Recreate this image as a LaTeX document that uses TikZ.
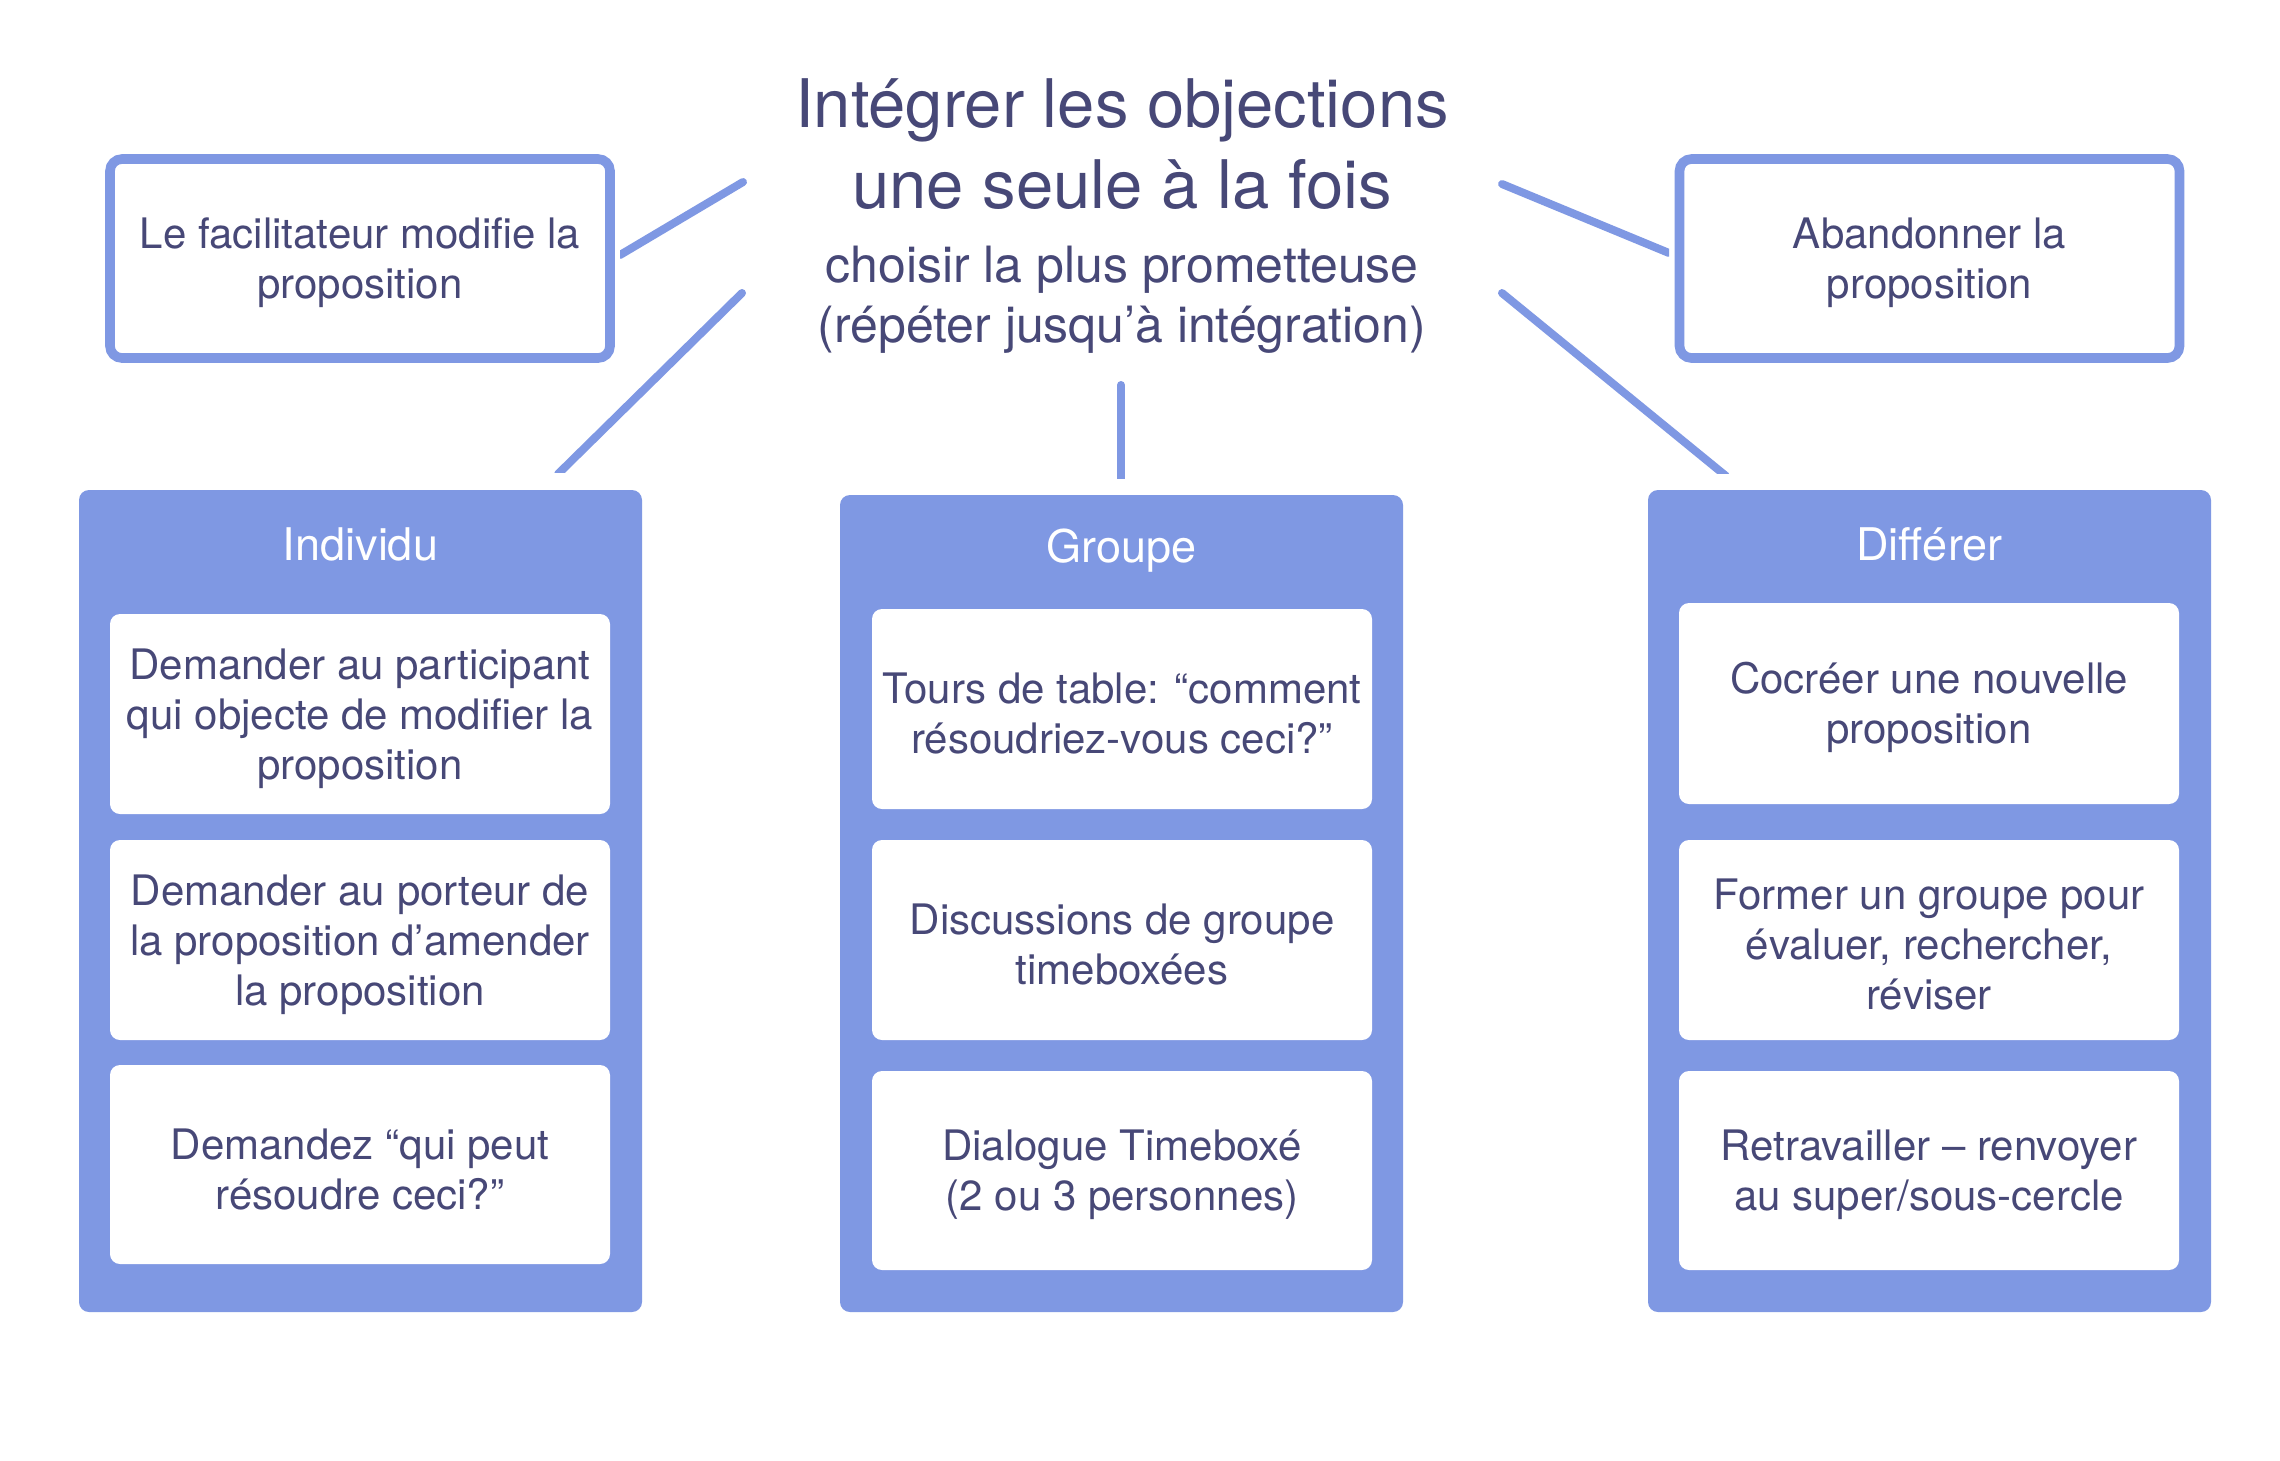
\documentclass[tikz,border=0pt]{standalone}
\usepackage{fontspec}
\setmainfont{TeX Gyre Heros}
\definecolor{cblue}{HTML}{7F98E3}
\definecolor{ink}{HTML}{474877}
\newcommand\boxstrut{\rule{0pt}{9.9pt}}
\begin{document}
\begin{tikzpicture}[x=0.25pt,y=-0.25pt,
  conn/.style={draw=cblue, line width=2pt, line cap=round},
  topbox/.style={draw=cblue, line width=2.4pt, fill=white, rounded corners=3pt,
    minimum width=125pt, minimum height=49.75pt, inner sep=0pt, align=center,
    text=ink, font=\fontsize{10.5pt}{12.5pt}\selectfont},
  colbox/.style={fill=cblue, rounded corners=2.5pt, minimum width=140.75pt, inner sep=0pt},
  colhead/.style={anchor=base, text=white, font=\fontsize{11.25pt}{13pt}\selectfont},
  itembox/.style={fill=white, rounded corners=2.5pt, minimum width=125pt, minimum height=50pt,
    inner sep=0pt, align=center, text=ink, font=\fontsize{10.5pt}{12.5pt}\selectfont},
  titleline/.style={anchor=base, text=ink, font=\fontsize{16.75pt}{20pt}\selectfont},
  subline/.style={anchor=base, text=ink, font=\fontsize{12.5pt}{15pt}\selectfont}]
\useasboundingbox (0,0) rectangle (2280,1460);
\fill[white] (0,0) rectangle (2280,1460);

% title
\node[titleline] (t1) at (1122,127) {Intégrer les objections};
\node[titleline] (t2) at (1122,208) {une seule à la fois};
\node[subline] (s1) at (1122,282) {choisir la plus prometteuse};
\node[subline] (s2) at (1122,342) {(répéter jusqu’à intégration)};

% connector end points
\coordinate (c1s) at (743,182);  \coordinate (c1e) at (620,255);
\coordinate (c2s) at (742,293);  \coordinate (c2e) at (558,474);
\coordinate (c3s) at (1121,385); \coordinate (c3e) at (1121,480);
\coordinate (c4s) at (1502,184); \coordinate (c4e) at (1669,253);
\coordinate (c5s) at (1502,293); \coordinate (c5e) at (1726,476);

\begin{scope}\clip (620,0) rectangle (2280,1460);\draw[conn] (c1s) -- (c1e);\end{scope}
\begin{scope}\clip (0,0) rectangle (2280,472);\draw[conn] (c2s) -- (c2e);\end{scope}
\begin{scope}\clip (0,0) rectangle (2280,478);\draw[conn] (c3s) -- (c3e);\end{scope}
\begin{scope}\clip (0,0) rectangle (1669,1460);\draw[conn] (c4s) -- (c4e);\end{scope}
\begin{scope}\clip (0,0) rectangle (2280,473);\draw[conn] (c5s) -- (c5e);\end{scope}

% top boxes
\node[topbox] (fac) at (360,258.5) {\boxstrut Le facilitateur modifie la\\proposition};
\node[topbox] (aba) at (1929.5,258.5) {\boxstrut Abandonner la\\proposition};

% columns
\node[colbox, minimum height=205.5pt] (ind) at (360.5,901) {};
\node[colbox, minimum height=204.25pt] (grp) at (1121.5,903.5) {};
\node[colbox, minimum height=205.5pt] (dif) at (1929.5,901) {};

\node[colhead] (indh) at (360.5,560) {Individu};
\node[colhead] (grph) at (1121.5,562) {Groupe};
\node[colhead] (difh) at (1929.5,560) {Différer};

% Individu items
\node[itembox] (i1) at (360,714) {\boxstrut Demander au participant\\qui objecte de modifier la\\proposition};
\node[itembox] (i2) at (360,940) {\boxstrut Demander au porteur de\\la proposition d’amender\\la proposition};
\node[itembox, minimum height=49.75pt] (i3) at (360,1164.5) {\boxstrut Demandez “qui peut\\résoudre ceci?”};

% Groupe items
\node[itembox] (g1) at (1122,709) {\boxstrut Tours de table: “comment\\résoudriez-vous ceci?”};
\node[itembox] (g2) at (1122,940) {\boxstrut Discussions de groupe\\timeboxées};
\node[itembox, minimum height=49.75pt] (g3) at (1122,1170.5) {\boxstrut Dialogue Timeboxé\\(2 ou 3 personnes)};

% Différer items
\node[itembox, minimum height=50.25pt] (d1) at (1929,703.5) {\boxstrut Cocréer une nouvelle\\proposition};
\node[itembox] (d2) at (1929,940) {\boxstrut Former un groupe pour\\évaluer, rechercher,\\réviser};
\node[itembox, minimum height=49.75pt] (d3) at (1929,1170.5) {\boxstrut Retravailler – renvoyer\\au super/sous-cercle};
\end{tikzpicture}
\end{document}
